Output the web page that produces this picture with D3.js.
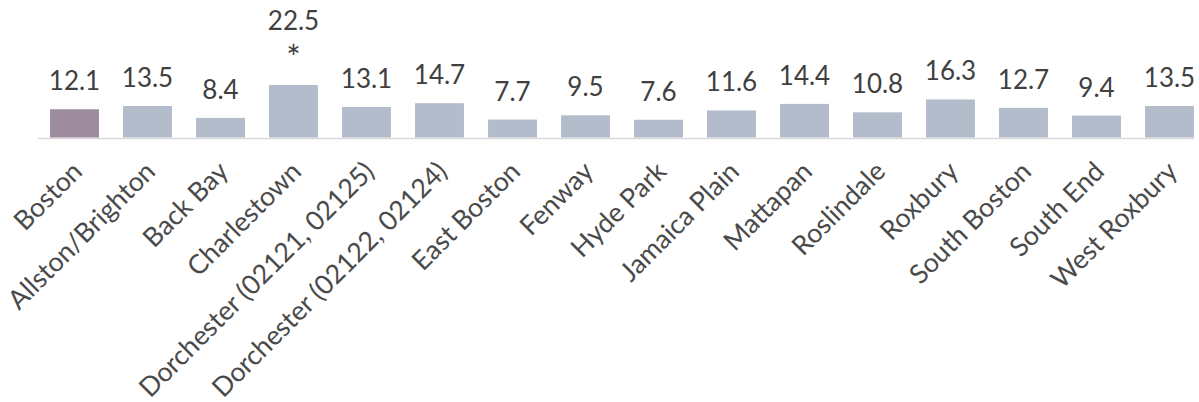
<!DOCTYPE html>
<html><head><meta charset="utf-8">
<script src="https://cdn.jsdelivr.net/npm/d3@7"></script>
<style>
html,body{margin:0;padding:0;background:#fff;}
svg{display:block;font-family:Lato,"Open Sans",sans-serif;}
</style></head>
<body>
<svg id="chart" width="1199" height="402"></svg>
<script>
const categories = ["Boston","Allston/Brighton","Back Bay","Charlestown","Dorchester (02121, 02125)","Dorchester (02122, 02124)","East Boston","Fenway","Hyde Park","Jamaica Plain","Mattapan","Roslindale","Roxbury","South Boston","South End","West Roxbury"];
const values = [12.1,13.5,8.4,22.5,13.1,14.7,7.7,9.5,7.6,11.6,14.4,10.8,16.3,12.7,9.4,13.5];
const notes = ["","","","*","","","","","","","","","","","",""];
const highlight = ["Boston"];

const svg = d3.select("#chart");
const baseY = 137.5;
const x = d3.scaleBand().domain(categories).range([38, 1206]).paddingInner(0.33).paddingOuter(0.165);
const y = d3.scaleLinear().domain([0, 22.5]).range([baseY, 85]);

svg.append("line").attr("x1", 38).attr("x2", 1194).attr("y1", baseY + 1).attr("y2", baseY + 1)
  .attr("stroke", "#d9d9d9").attr("stroke-width", 1.5);

svg.selectAll("rect.bar").data(categories).join("rect").attr("class","bar")
  .attr("x", d => x(d)).attr("width", x.bandwidth())
  .attr("y", (d,i) => y(values[i])).attr("height", (d,i) => baseY - y(values[i]))
  .attr("fill", d => highlight.includes(d) ? "#9d8c9d" : "#b3bccb");

const valSize = 26;
const lab = svg.selectAll("text.val").data(categories).join("text").attr("class","val")
  .attr("text-anchor","middle").attr("fill","#404040").attr("font-size", valSize)
  .attr("x", d => x(d) + x.bandwidth()/2);
lab.each(function(d,i){
  const t = d3.select(this);
  const top = y(values[i]) - 19;
  if (notes[i]) {
    t.attr("y", top - 36).text(values[i].toFixed(1));
    svg.append("text").attr("text-anchor","middle").attr("fill","#404040").attr("font-size",34)
      .attr("x", x(d) + x.bandwidth()/2).attr("y", top + 4).text(notes[i]);
  } else {
    t.attr("y", top).text(values[i].toFixed(1));
  }
});

// fit category label size so that label length difference matches the reference layout
function measure(str){
  const t = svg.append("text").attr("font-size",100).text(str);
  const w = t.node().getComputedTextLength(); t.remove(); return w;
}
const wLong = measure(categories[4]), wShort = measure(categories[0]);
const catSize = 236 * 100 / (wLong - wShort);
const k = Math.SQRT1_2;
// baseline start of the first label sits near (25,232) in the reference
const lenFirst = wShort * catSize / 100;
const endDx = 25 + k * lenFirst - (x(categories[0]) + x.bandwidth()/2);
const endY = 232 - k * lenFirst;

svg.selectAll("text.cat").data(categories).join("text").attr("class","cat")
  .attr("text-anchor","end").attr("fill","#4a4a4a").attr("font-size", catSize)
  .attr("transform", d => `translate(${x(d) + x.bandwidth()/2 + endDx},${endY}) rotate(-45)`)
  .text(d => d);
</script>
</body></html>
